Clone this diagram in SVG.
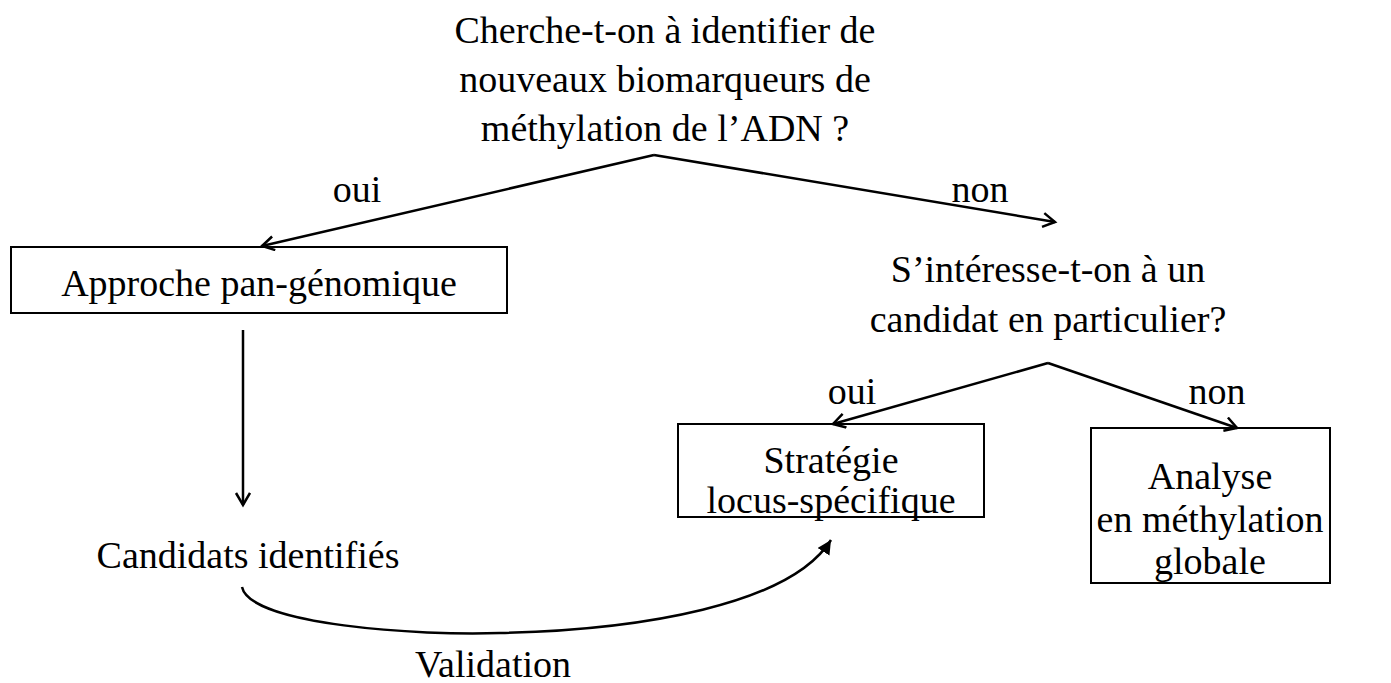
<svg xmlns="http://www.w3.org/2000/svg" width="1391" height="683" viewBox="0 0 1391 683">
<defs>
<style>
text{font-family:"Liberation Serif","Times New Roman",serif;font-size:38px;fill:#000;text-anchor:middle}
.box{fill:#fff;stroke:#000;stroke-width:2}
.ln{fill:none;stroke:#000;stroke-width:2.5}
</style>
<marker id="open" markerWidth="20" markerHeight="20" refX="14" refY="8" orient="auto" markerUnits="userSpaceOnUse">
<path d="M2,1 L14,8 L2,15" fill="none" stroke="#000" stroke-width="2.5"/>
</marker>
<marker id="filled" markerWidth="20" markerHeight="20" refX="14" refY="7" orient="auto" markerUnits="userSpaceOnUse">
<path d="M0,0 L14,7 L0,14 Z" fill="#000"/>
</marker>
</defs>
<rect width="1391" height="683" fill="#fff"/>
<g id="q1">
<text x="665" y="43">Cherche-t-on à identifier de</text>
<text x="665" y="92">nouveaux biomarqueurs de</text>
<text x="665" y="141">méthylation de l’ADN ?</text>
</g>
<g id="q2">
<text x="1048" y="282">S’intéresse-t-on à un</text>
<text x="1048" y="332">candidat en particulier?</text>
</g>
<g id="pan">
<rect class="box" x="11" y="247" width="496" height="66"/>
<text x="259" y="296">Approche pan-génomique</text>
</g>
<g id="cand">
<text x="248" y="568">Candidats identifiés</text>
</g>
<g id="strat">
<rect class="box" x="678" y="424" width="306" height="93"/>
<text x="831" y="473">Stratégie</text>
<text x="831" y="513">locus-spécifique</text>
</g>
<g id="glob">
<rect class="box" x="1091" y="428" width="239" height="155"/>
<text x="1210" y="489">Analyse</text>
<text x="1210" y="532">en méthylation</text>
<text x="1210" y="574">globale</text>
</g>
<g id="connectors">
<path class="ln" d="M654,155 L262,246" marker-end="url(#open)"/>
<path class="ln" d="M654,155 L1055,222" marker-end="url(#open)"/>
<path class="ln" d="M243,330 L243,505" marker-end="url(#open)"/>
<path class="ln" d="M1048,363 L833,424" marker-end="url(#open)"/>
<path class="ln" d="M1048,363 L1237,428" marker-end="url(#open)"/>
<path class="ln" d="M242,587 C250,625 420,636 500,633 C640,630 790,605 831,540" marker-end="url(#filled)"/>
<text x="357" y="202">oui</text>
<text x="980" y="202">non</text>
<text x="852" y="404">oui</text>
<text x="1217" y="404">non</text>
<text x="493" y="677">Validation</text>
</g>
</svg>
